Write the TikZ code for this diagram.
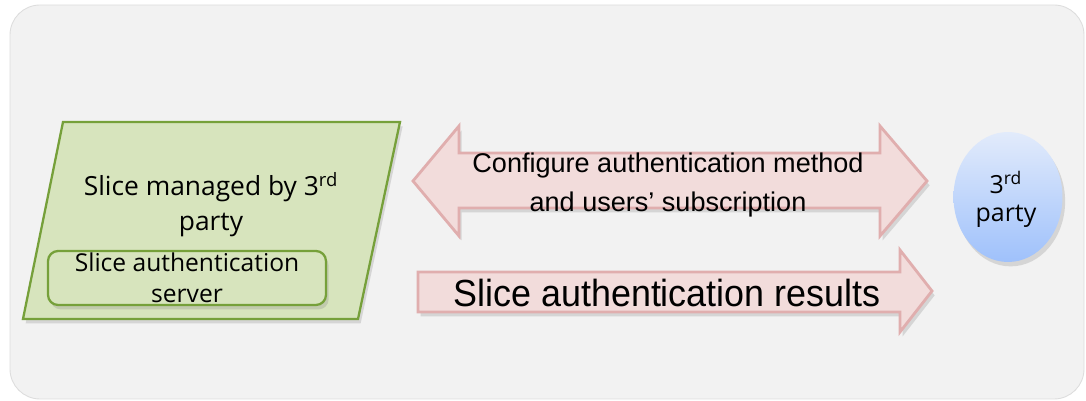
\documentclass[tikz,border=0pt]{standalone}
\usepackage{fontspec}
\newfontfamily\osans{Open Sans}
\newfontfamily\lsans{Liberation Sans}
\usetikzlibrary{positioning, shapes.geometric, shadows}

\definecolor{panelgray}{HTML}{F2F2F2}
\definecolor{panelline}{HTML}{DDDDDD}
\definecolor{slicegreen}{HTML}{D7E4BD}
\definecolor{sliceline}{HTML}{76A03A}
\definecolor{arrowpink}{HTML}{F2DCDB}
\definecolor{arrowline}{HTML}{E0AEAE}
\definecolor{partytop}{HTML}{E2EBFB}
\definecolor{partybottom}{HTML}{9FC1FB}

\newcommand{\slim}[1]{\scalebox{0.95}[1]{#1}}

\tikzset{
    panel/.style={fill=panelgray, draw=panelline, line width=0.5pt, rounded corners=0.6cm},
    myshadow/.style={drop shadow={opacity=0.25, shadow xshift=1.5pt, shadow yshift=-2.5pt}},
    slicebox/.style={fill=slicegreen, draw=sliceline, line width=1.3pt, myshadow},
    serverbox/.style={rectangle, rounded corners=0.2cm, fill=slicegreen, draw=sliceline,
        line width=1.3pt, minimum width=5.56cm, minimum height=1.08cm, myshadow},
    blockarrow/.style={fill=arrowpink, draw=arrowline, line width=1.6pt, line join=miter, myshadow},
    party/.style={ellipse, minimum width=2.18cm, minimum height=2.6cm, inner sep=0pt,
        top color=partytop, bottom color=partybottom, myshadow},
    gothic/.style={font=\osans\fontsize{15}{20}\selectfont, align=center, inner sep=0pt},
    arial/.style={font=\lsans\fontsize{15.4}{22.2}\selectfont, align=center, inner sep=0pt},
}

\begin{document}
\begin{tikzpicture}[x=0.02cm, y=-0.02cm]
    \useasboundingbox (0,0) rectangle (1086,401);
    \draw [panel] (10,5) rectangle (1084,399);

    % slice managed by the 3rd party
    \draw [slicebox] (63,122) -- (400,122) -- (358,319) -- (23,319) -- cycle;
    \node [gothic, anchor=base] (slice) at (211,231) {Slice managed by 3\textsuperscript{rd}\\party};
    \node [serverbox] (server) at (187,278) {};
    \node [gothic, font=\osans\fontsize{14}{18.2}\selectfont, anchor=base] (serverlbl) at (187,303)
        {Slice authentication\\server};

    \node [party] (party) at (1008,197) {};
    \node [gothic, font=\osans\fontsize{14.2}{16}\selectfont, anchor=base] (partylbl) at (1006,222)
        {3\textsuperscript{rd}\\party};

    % block arrows
    \draw [blockarrow] (413,181) -- (459,126) -- (459,153) -- (880,153) -- (880,126)
        -- (927,181) -- (880,236) -- (880,208) -- (459,208) -- (459,236) -- cycle;
    \node [arial, anchor=base] (config) at (668,212)
        {Configure authentication method\\and users’ subscription};

    \draw [blockarrow] (418,272) -- (900,272) -- (900,250) -- (932,291) -- (900,332)
        -- (900,312) -- (418,312) -- cycle;
    \node [arial, font=\lsans\fontsize{21.5}{26}\selectfont, anchor=base] (results) at (667,307)
        {\slim{Slice authentication results}};
\end{tikzpicture}
\end{document}
